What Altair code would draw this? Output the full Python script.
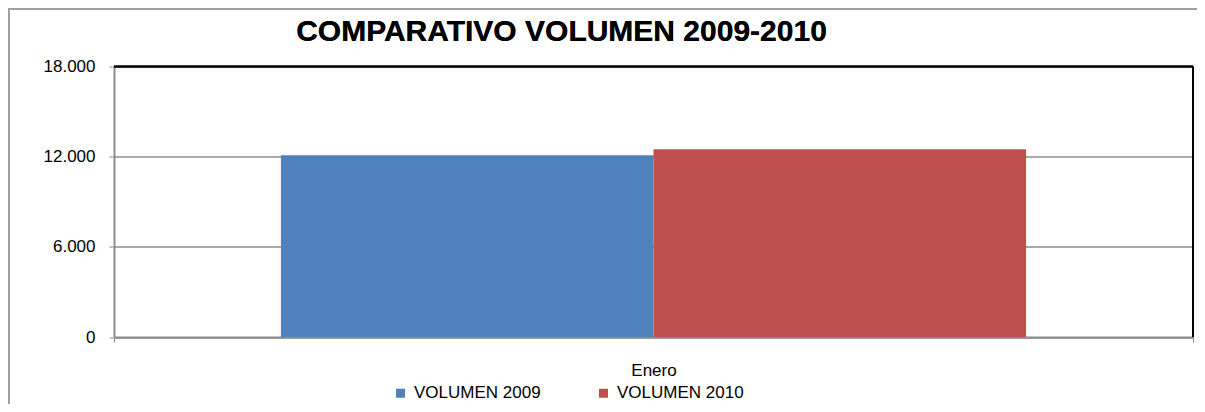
import altair as alt
import pandas as pd

# ---- data ----
categories = ["Enero"]
series = ["VOLUMEN 2009", "VOLUMEN 2010"]
values_2009 = [12100]
values_2010 = [12500]
y_ticks = [0, 6000, 12000, 18000]
colors = ["#4F81BD", "#C0504D"]
title_text = "COMPARATIVO VOLUMEN 2009-2010"

rows = []
for i, c in enumerate(categories):
    rows.append({"mes": c, "serie": series[0], "volumen": values_2009[i]})
    rows.append({"mes": c, "serie": series[1], "volumen": values_2010[i]})
df = pd.DataFrame(rows)

W, H = 1079, 270.5
PL, PT, PR, PB = 106, 58.5, 4, 67
FONT = "Liberation Sans"
GREY = "#8c8c8c"

base = alt.Chart(df)

bars = base.mark_bar().encode(
    x=alt.X(
        "mes:N",
        title=None,
        scale=alt.Scale(paddingInner=0, paddingOuter=0),
        axis=alt.Axis(
            labelAngle=0, tickBand="extent", domainColor=GREY, tickColor=GREY,
            tickSize=5, labelPadding=20, labelFontSize=17, labelFont=FONT,
            labelColor="black", grid=False, domainWidth=2,
        ),
    ),
    xOffset=alt.XOffset("serie:N", scale=alt.Scale(paddingInner=0, paddingOuter=0.448)),
    y=alt.Y(
        "volumen:Q",
        title=None,
        scale=alt.Scale(domain=[0, 18000], nice=False),
        axis=alt.Axis(
            values=y_ticks,
            labelExpr="replace(format(datum.value, ','), ',', '.')",
            domainColor=GREY, tickColor=GREY, tickSize=5, labelPadding=14,
            labelFontSize=17, labelFont=FONT, labelColor="black",
            gridColor=GREY, gridWidth=1.5, domainWidth=2,
        ),
    ),
    color=alt.Color(
        "serie:N",
        scale=alt.Scale(domain=series, range=colors),
        legend=alt.Legend(
            orient="none", legendX=278, legendY=318, direction="horizontal",
            columns=2, columnPadding=54, symbolType="square", symbolSize=81,
            symbolStrokeWidth=0, labelFontSize=17, labelFont=FONT,
            labelColor="black", title=None, padding=0, labelOffset=5,
            labelLimit=400,
        ),
    ),
)

top_line = base.mark_rule(color="black", strokeWidth=2).encode(y=alt.datum(18000))
right_line = base.mark_rule(color="black", strokeWidth=2).encode(
    x=alt.value(W), y=alt.value(0), y2=alt.value(H)
)
outer_left = base.mark_rule(color="#a0a0a0", strokeWidth=2).encode(
    x=alt.value(-PL + 1), y=alt.value(-PT), y2=alt.value(H + PB)
)
outer_top = base.mark_rule(color="#a0a0a0", strokeWidth=2).encode(
    y=alt.value(-PT + 1), x=alt.value(-PL), x2=alt.value(W + PR)
)
title = base.mark_text(
    font=FONT, fontSize=30, fontWeight="bold", color="black",
    align="center", baseline="alphabetic",
).encode(x=alt.value(447.5), y=alt.value(-25.5), text=alt.value(title_text))

chart = (
    alt.layer(bars, top_line, right_line, outer_left, outer_top, title)
    .properties(
        width=W,
        height=H,
        autosize="none",
        padding={"left": PL, "top": PT, "right": PR, "bottom": PB},
        background="white",
    )
    .configure_view(stroke=None)
)

chart.save("out.html", embed_options={"renderer": "svg", "actions": False})
